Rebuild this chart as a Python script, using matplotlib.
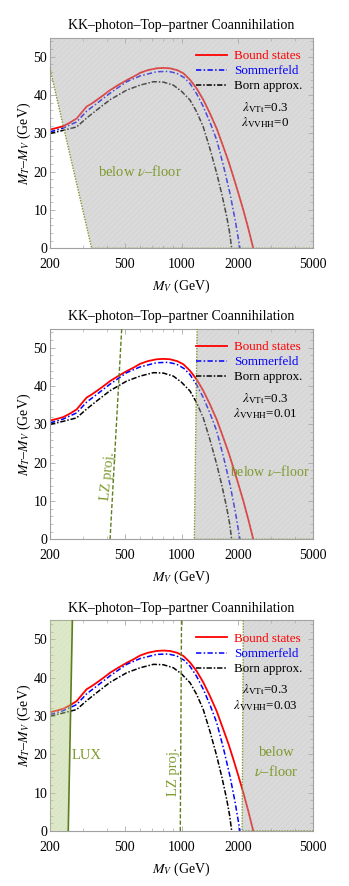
import numpy as np
import matplotlib
matplotlib.use("Agg")
import matplotlib.pyplot as plt
from matplotlib.ticker import FixedLocator, NullFormatter, LogLocator, MultipleLocator

plt.rcParams['font.family'] = ['Liberation Serif', 'DejaVu Serif']
plt.rcParams['mathtext.fontset'] = 'stix'
plt.rcParams['hatch.linewidth'] = 0.3

# relic-density contours, M_T - M_V vs M_V (GeV)
mv_bound = [200, 220, 235, 255, 277, 295, 313, 333, 354, 385, 417, 460, 511, 555,
            602, 660, 738, 800, 868, 950, 1023, 1110, 1205, 1305, 1417, 1540,
            1668, 1780, 1886, 2000, 2131, 2270, 2407]
dm_bound = [31.0, 31.5, 31.9, 32.8, 33.9, 35.5, 37.0, 37.8, 38.7, 40.0, 41.3, 42.6,
            43.9, 44.8, 45.8, 46.5, 47.0, 47.1, 47.0, 46.5, 45.7, 44.0, 41.7, 38.8,
            35.2, 31.2, 26.5, 22.6, 18.7, 14.6, 10.0, 5.0, 0.0]

mv_sommer = [200, 235, 277, 313, 354, 417, 511, 602, 738, 850, 943, 1030, 1110,
             1205, 1305, 1420, 1538, 1670, 1810, 1930, 2045]
dm_sommer = [30.4, 31.4, 33.0, 35.8, 37.8, 40.5, 43.5, 45.0, 46.1, 46.2, 45.7, 44.6,
             43.0, 40.3, 37.0, 32.8, 28.3, 21.6, 14.3, 7.3, 0.0]

mv_born = [200, 235, 277, 313, 354, 417, 511, 602, 709, 800, 905, 1000, 1110, 1205,
           1305, 1420, 1538, 1640, 1738, 1800, 1848]
dm_born = [30.0, 30.8, 31.7, 34.0, 36.1, 38.8, 41.3, 42.6, 43.5, 43.4, 42.6, 41.0,
           38.7, 35.6, 31.7, 25.8, 19.6, 14.0, 8.3, 4.2, 0.0]

# exclusion / projection boundaries per panel
nufloor_x = [[183, 333, 5000], [1210, 1170, 5000], [2130, 2100, 5000]]
nufloor_y = [55, 0, 0]
lz_x = [None, [417, 481], [985, 1000]]
lz_y = [0, 55]
lux_x = [250, 263]
lux_y = [0, 55]
lam_vvhh = ['0', '0.01', '0.03']

xticks = [200, 500, 1000, 2000, 5000]
olive = '#7d9a2e'
fs = 10

fig = plt.figure(figsize=(3.49, 8.86), dpi=100)
bottoms = [0.7197, 0.3913, 0.0621]

for i, b in enumerate(bottoms):
    ax = fig.add_axes([0.1433, b, 0.7536, 0.2378])
    ax.set_xscale('log')
    ax.set_xlim(200, 5000)
    ax.set_ylim(0, 55)

    ax.plot(mv_bound, dm_bound, color='red', lw=1.3, label='Bound states', zorder=2)
    ax.plot(mv_sommer, dm_sommer, color='blue', lw=1.1, dashes=[3.5, 1.5, 1, 1.5],
            label='Sommerfeld', zorder=2)
    ax.plot(mv_born, dm_born, color='black', lw=1.1, dashes=[3.5, 1.2, 1, 1.2],
            label='Born approx.', zorder=2)

    # neutrino floor region (shaded, drawn over the curves)
    fx = nufloor_x[i] + [5000]
    fy = nufloor_y + [55]
    ax.fill(fx, fy, facecolor='#a8a8a8', alpha=0.42, edgecolor='#bdbdbd',
            hatch='//////', lw=0, zorder=3)
    ax.plot(nufloor_x[i], nufloor_y, color=olive, lw=1.0, ls=(0, (1, 1)), zorder=4)

    if lz_x[i] is not None:
        ax.plot(lz_x[i], lz_y, color='#5e7d1e', lw=1.0, dashes=[3, 1.5], zorder=4)

    if i == 0:
        ax.text(600, 20, r'below $\nu$–floor', color=olive, fontsize=10.5,
                ha='center', va='center', zorder=5)
    elif i == 1:
        ax.text(2950, 17.7, r'below $\nu$–floor', color=olive, fontsize=10,
                ha='center', va='center', zorder=5)
        ax.text(405, 16.5, 'LZ proj.', color=olive, fontsize=10.5, rotation=84,
                ha='center', va='center', zorder=5)
    else:
        ax.text(3200, 17.8, 'below\n' + r'$\nu$–floor', color=olive, fontsize=10.5,
                ha='center', va='center', linespacing=1.4, zorder=5)
        ax.text(905, 15.6, 'LZ proj.', color=olive, fontsize=10.5, rotation=90,
                ha='center', va='center', zorder=5)
        ax.fill_betweenx(lux_y, [200, 200], lux_x, facecolor='#b5cc88', alpha=0.45,
                         edgecolor='#c8d8a8', hatch='//////', lw=0, zorder=3)
        ax.plot(lux_x, lux_y, color='#5e7d1e', lw=1.2, zorder=4)
        ax.text(262, 19.6, 'LUX', color=olive, fontsize=10.5, ha='left',
                va='center', zorder=5)

    leg = ax.legend(loc='upper left', bbox_to_anchor=(0.555, 0.94), frameon=False,
                    fontsize=9.4, handlelength=2.4, handletextpad=0.55,
                    labelspacing=0.22, borderpad=0, borderaxespad=0,
                    labelcolor='linecolor')
    leg.set_zorder(6)
    ax.text(0.817, 0.669, r'$\lambda_{\rm VTt}$=0.3', transform=ax.transAxes,
            fontsize=9.4, ha='center', va='center', zorder=6)
    ax.text(0.817, 0.596, r'$\lambda_{\rm VVHH}$=' + lam_vvhh[i],
            transform=ax.transAxes, fontsize=9.4, ha='center', va='center', zorder=6)

    ax.xaxis.set_major_locator(FixedLocator(xticks))
    ax.set_xticklabels([str(t) for t in xticks])
    ax.xaxis.set_minor_locator(LogLocator(base=10, subs=np.arange(2, 10)))
    ax.xaxis.set_minor_formatter(NullFormatter())
    ax.yaxis.set_major_locator(MultipleLocator(10))
    ax.yaxis.set_minor_locator(MultipleLocator(2))
    ax.tick_params(which='both', direction='in', top=True, right=True,
                   color='#aaaaaa', labelsize=fs)
    ax.tick_params(axis='x', pad=7)
    ax.tick_params(axis='y', pad=2)
    ax.tick_params(which='major', length=3.5, width=0.6)
    ax.tick_params(which='minor', length=2, width=0.5)
    for s in ax.spines.values():
        s.set_color('#a0a0a0')
        s.set_linewidth(0.8)

    ax.set_title('KK–photon–Top–partner Coannihilation', fontsize=fs, pad=6)
    ax.set_xlabel(r'$M_V$ (GeV)', fontsize=fs, labelpad=5)
    ax.set_ylabel(r'$M_T$–$M_V$ (GeV)', fontsize=fs, labelpad=0)

fig.savefig('out.png', dpi=100)
